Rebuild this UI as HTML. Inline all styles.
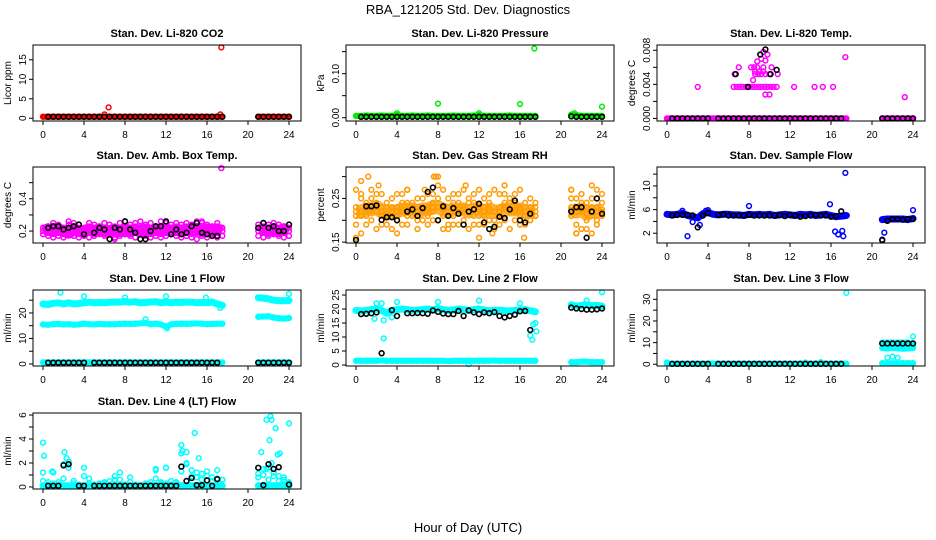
<!DOCTYPE html>
<html><head><meta charset="utf-8"><title>RBA_121205 Std. Dev. Diagnostics</title>
<style>
html,body{margin:0;padding:0;background:#fff;}
svg{display:block;font-family:"Liberation Sans",sans-serif;}
</style></head>
<body>
<svg id="chart" width="936" height="540" viewBox="0 0 936 540" xmlns="http://www.w3.org/2000/svg">
<rect x="0" y="0" width="936" height="540" fill="#fff"/>
<text x="468" y="14" text-anchor="middle" font-size="13">RBA_121205  Std. Dev. Diagnostics</text>
<text x="468" y="532" text-anchor="middle" font-size="13">Hour of Day (UTC)</text>
</svg>
<script>
// shared time grid (hours)
const hours = [0,0.5,1,1.5,2,2.5,3,3.5,4,4.5,5,5.5,6,6.5,7,7.5,8,8.5,9,9.5,10,10.5,11,11.5,12,12.5,13,13.5,14,14.5,15,15.5,16,16.5,17,17.5,21,21.5,22,22.5,23,23.5,24];
const xTicks = [0,4,8,12,16,20,24];

// CO2
const co2Main = [0.4,0.4,0.4,0.4,0.4,0.4,0.4,0.4,0.4,0.4,0.4,0.4,0.4,0.4,0.4,0.4,0.4,0.4,0.4,0.4,0.4,0.4,0.4,0.4,0.4,0.4,0.4,0.4,0.4,0.4,0.4,0.4,0.4,0.4,0.4,0.4,0.4,0.4,0.4,0.4,0.4,0.4,0.4];
const co2Black = [null,0.4,0.4,0.4,0.4,0.4,0.4,0.4,0.4,0.4,0.4,0.4,0.4,0.4,0.4,0.4,0.4,0.4,0.4,0.4,0.4,0.4,0.4,0.4,0.4,0.4,0.4,0.4,0.4,0.4,0.4,0.4,0.4,0.4,0.4,0.4,0.4,0.4,0.4,0.4,0.4,0.4,0.4];
const co2OutT = [6.4,17.4,17.3,6.0];
const co2OutV = [2.8,18.2,1.0,1.0];
// Pressure
const presMain = [0.004,0.004,0.005,0.004,0.004,0.005,0.004,0.004,0.006,0.004,0.004,0.005,0.004,0.004,0.005,0.004,0.004,0.004,0.004,0.005,0.004,0.004,0.004,0.005,0.006,0.004,0.004,0.004,0.004,0.004,0.005,0.004,0.004,0.004,0.004,0.004,0.007,0.006,0.004,0.004,0.004,0.004,0.004];
const presBlack = [null,0.002,0.002,0.002,0.002,0.002,0.002,0.002,0.002,0.002,0.002,0.002,0.002,0.002,0.002,0.002,0.002,0.002,0.002,0.002,0.002,0.002,0.002,0.002,0.002,0.002,0.002,0.002,0.002,0.002,0.002,0.002,0.002,0.002,0.002,0.002,0.003,0.002,0.002,0.002,0.002,0.002,0.002];
const presOutT = [8,16,17.4,24,4,12,21.3];
const presOutV = [0.032,0.031,0.157,0.025,0.01,0.01,0.01];
// Li-820 Temp
const tempMain = [0,0,0,0,0,0,0,0,0,0,0,0,0,0,0,0,0,0,0,0,0,0,0,0,0,0,0,0,0,0,0,0,0,0,0,0,0,0,0,0,0,0,0];
const tempBlack = [null,0,0,0,0,0,0,0,0,null,0,0,0,0,0,0,0,0,0,0,0,0,0,0,0,0,0,0,0,0,0,0,0,0,0,null,0,0,0,0,0,0,0];
const tempOutT = [3,6.6,7,8.2,8.5,8.8,9.4,10.2,8.4,8.6,8.9,9.2,9.6,10,10.8,8.8,9.2,9.6,9.8,9.4,9.6,10,12.4,14.4,15.2,16.2,17.4,23.2,6.5,6.8,7.1,7.4,7.7,8,8.3,8.6,8.9,9.2,9.5,9.8,10.1,10.4,10.7,8.6,9.0,9.4];
const tempOutV = [0.0037,0.0052,0.006,0.006,0.006,0.006,0.006,0.006,0.0045,0.0052,0.0052,0.0052,0.0052,0.0052,0.0052,0.0067,0.007,0.0068,0.0075,0.0078,0.0028,0.0028,0.0037,0.0037,0.0037,0.0037,0.0072,0.0025,0.0037,0.0037,0.0037,0.0037,0.0037,0.0037,0.0037,0.0037,0.0037,0.0037,0.0037,0.0037,0.0037,0.0037,0.0037,0.0055,0.0055,0.0055];
const tempBlkT = [6.7,7.9,9.1,9.6,10.1,10.7];
const tempBlkV = [0.0052,0.0037,0.0075,0.0081,0.0052,0.0057];
// Amb box temp
const ambA = [0.22,0.23,0.25,0.24,0.22,0.24,0.25,0.24,0.22,0.25,0.24,0.23,0.25,0.24,0.22,0.25,0.26,0.24,0.25,0.26,0.24,0.25,0.23,0.26,0.25,0.24,0.25,0.24,0.25,0.24,0.26,0.25,0.24,0.23,0.25,0.22,0.24,0.25,0.24,0.25,0.24,0.23,0.22];
const ambB = [0.18,0.17,0.16,0.17,0.16,0.18,0.17,0.16,0.17,0.16,0.17,0.18,0.17,0.18,0.16,0.17,0.18,0.17,0.16,0.18,0.17,0.16,0.17,0.16,0.17,0.18,0.17,0.16,0.17,0.16,0.15,0.17,0.16,0.17,0.16,0.17,0.17,0.16,0.17,0.18,0.17,0.16,0.17];
const ambC = [0.2,0.21,0.2,0.21,0.2,0.19,0.21,0.2,0.2,0.21,0.2,0.21,0.2,0.2,0.21,0.2,0.21,0.2,0.21,0.2,0.21,0.2,0.21,0.2,0.21,0.2,0.21,0.2,0.21,0.2,0.21,0.2,0.21,0.2,0.21,0.2,0.2,0.21,0.2,0.21,0.2,0.21,0.2];
const ambBlack = [null,0.22,0.23,0.23,0.21,0.22,0.23,0.24,0.18,null,0.19,0.22,0.21,0.15,0.22,0.21,0.26,0.21,0.19,0.15,0.15,0.2,0.23,0.23,0.26,0.18,0.21,0.18,0.19,0.23,0.25,0.19,0.18,0.17,0.17,null,0.22,0.25,0.22,0.23,0.2,0.2,0.24];
const ambOutT = [17.4,7,2.5,8,15.5];
const ambOutV = [0.59,0.15,0.26,0.26,0.26];
// Gas stream RH
const rhA = [0.27,0.26,0.24,0.27,0.26,0.23,0.21,0.22,0.26,0.24,0.27,0.23,0.25,0.22,0.26,0.24,0.28,0.27,0.25,0.26,0.24,0.27,0.25,0.26,0.27,0.25,0.24,0.27,0.26,0.24,0.25,0.26,0.27,0.24,0.23,0.21,0.27,0.25,0.26,0.24,0.25,0.27,0.26];
const rhB = [0.19,0.21,0.23,0.20,0.22,0.19,0.24,0.23,0.20,0.22,0.21,0.24,0.20,0.23,0.21,0.22,0.20,0.21,0.23,0.19,0.22,0.20,0.22,0.21,0.19,0.23,0.22,0.20,0.21,0.23,0.22,0.20,0.21,0.22,0.20,0.21,0.21,0.19,0.22,0.20,0.21,0.19,0.22];
const rhC = [0.23,0.17,0.19,0.25,0.18,0.26,0.23,0.18,0.23,0.19,0.24,0.21,0.18,0.25,0.19,0.26,0.23,0.18,0.21,0.24,0.19,0.23,0.18,0.24,0.21,0.19,0.26,0.18,0.23,0.20,0.18,0.24,0.19,0.21,0.25,0.23,0.23,0.17,0.18,0.23,0.17,0.23,0.24];
const rhD = [0.21,0.25,0.21,0.22,0.24,0.21,0.19,0.25,0.21,0.26,0.19,0.22,0.23,0.2,0.23,0.2,0.25,0.23,0.19,0.21,0.26,0.22,0.24,0.19,0.23,0.21,0.2,0.22,0.19,0.26,0.24,0.22,0.23,0.19,0.22,0.24,0.25,0.22,0.24,0.18,0.23,0.2,0.21];
const rhMid = [0.22,0.22,0.225,0.225,0.23,0.22,0.215,0.22,0.22,0.225,0.225,0.225,0.22,0.225,0.225,0.23,0.23,0.225,0.22,0.225,0.225,0.225,0.22,0.225,0.225,0.22,0.225,0.22,0.22,0.225,0.225,0.225,0.225,0.22,0.22,0.22,0.225,0.22,0.225,0.215,0.22,0.22,0.225];
const rhBlack = [0.155,null,0.232,0.232,0.234,0.201,0.207,0.207,0.2,null,0.22,0.225,0.21,0.228,0.265,0.275,0.2,0.232,0.21,0.228,0.215,0.19,0.22,0.225,0.238,0.195,0.18,0.185,0.208,0.205,0.225,0.245,0.2,0.195,0.215,null,0.22,0.23,0.23,0.16,0.22,0.25,0.215];
const rhOutT = [0.5,1.2,5,6.7,7.8,7.6,8,12,16.4,9,14.5,21,23,21.5,0,2.2,4,10.7,13.3];
const rhOutV = [0.29,0.30,0.27,0.27,0.30,0.30,0.30,0.16,0.16,0.18,0.28,0.27,0.28,0.17,0.16,0.28,0.17,0.28,0.17];
// Sample flow
const sfMain = [5.2,5.1,5.2,5.4,5.0,4.8,4.6,5.3,5.5,5.2,5.1,5.2,5.2,5.1,5.1,5.0,5.2,5.1,5.2,5.1,5.2,5.0,5.1,5.2,5.1,5.0,5.2,5.1,5.2,5.0,5.1,5.2,5.0,4.8,4.9,5.0,4.3,4.4,4.4,4.4,4.4,4.3,4.5];
const sfBlack = [null,5.0,5.1,5.1,5.1,5.0,3.0,5.0,5.4,null,5.1,5.2,5.0,5.0,5.0,5.0,5.1,5.0,5.0,5.0,5.0,5.0,5.1,4.9,5.1,5.0,4.8,4.9,5.0,5.1,5.0,5.0,4.8,4.9,5.7,null,0.9,4.1,4.4,4.4,4.3,4.4,4.4];
const sfOutT = [2,2.5,3.2,8,15.9,16.4,16.7,17.1,17.2,17.4,21,21.2,24,1.5,4,3.8];
const sfOutV = [1.5,3.9,3.4,6.6,6.9,2.3,1.8,2.4,1.5,12.2,0.8,2.1,5.9,5.8,5.9,5.8];
// Line 1 flow
const l1Top = [23.5,23.3,23.8,24,23.5,24,23.5,23.7,24,24.2,24,24.1,24,24.2,24.3,24.2,24.5,24.2,24.4,24,24.1,24.3,24.4,24,24.3,24,24.2,24.1,24.3,24.2,24,24.1,24,24.3,23.5,23,26,25.8,25.5,25,24.8,24.8,24.9];
const l1Mid = [15.5,15.4,15.6,15.7,15.5,15.6,15.4,15.5,15.8,15.6,15.5,15.7,15.6,15.6,15.6,15.7,15.8,15.7,15.8,15.9,16.1,15.6,15.8,15.5,14.6,15.5,15.7,15.8,15.7,15.8,15.9,15.8,15.6,15.7,15.8,15.8,18.5,18.6,18.7,18.2,17.9,17.8,18];
const l1Low = [0.6,0.6,0.6,0.6,0.6,0.6,0.6,0.6,0.6,0.6,0.6,0.6,0.6,0.6,0.6,0.6,0.6,0.6,0.6,0.6,0.6,0.6,0.6,0.6,0.6,0.6,0.6,0.6,0.6,0.6,0.6,0.6,0.6,0.6,0.6,0.6,0.6,0.6,0.6,0.6,0.6,0.6,0.6];
const l1Black = [null,0.5,0.5,0.5,0.5,0.5,0.5,0.5,0.5,null,0.5,0.5,0.5,0.5,0.5,0.5,0.5,0.5,0.5,0.5,0.5,0.5,0.5,0.5,0.5,0.5,0.5,0.5,0.5,0.5,0.5,0.5,0.5,0.5,0.5,null,0.5,0.5,0.5,0.5,0.5,0.5,0.5];
const l1OutT = [1.7,4,8,12,15.9,17.3,24,10,12.1];
const l1OutV = [28,26.5,26,26.5,26,22,27.5,17.5,14];
// Line 2 flow
const l2Top = [19.5,19.3,19.5,19.8,20,19.5,18.5,19.5,19.8,20,19.8,19.5,19.6,19.8,20,19.7,20.2,19.8,19.5,19.7,20,19.8,19.5,19.8,20,19.6,19.4,19.5,19.6,19.4,19.3,19.5,19.6,19.8,19.4,19,21.5,21,21.3,21.5,21.2,21.3,21];
const l2Low = [1.5,1.5,1.5,1.5,1.5,1.6,1.5,1.5,1.5,1.5,1.5,1.5,1.5,1.5,1.5,1.5,1.5,1.5,1.4,1.5,1.5,1.5,1.5,1.5,1.5,1.5,1.5,1.6,1.5,1.5,1.5,1.5,1.5,1.5,1.5,1.5,1.0,1.0,1.2,1.2,1.0,1.0,1.0];
const l2Black = [null,18.2,18.3,18.5,18.8,4.2,null,19.6,17.5,null,18.5,18.5,18.6,18.5,18.3,19.5,19,18.4,18.2,18.2,19.3,17.5,19.5,18.8,18.2,18.8,18.5,18.9,17.5,17,17.5,18,19.2,19.3,12.5,null,20.5,20.2,20,19.8,19.8,19.9,20.2];
const l2OutT = [2.7,2,2.5,2.7,4,8,12,16,17,17.2,17.3,17.5,17.6,22.5,24,3.5,11,1.8];
const l2OutV = [9.5,22,22,16,22.5,22.5,23,22,10.5,9,14.5,15,12,23,26,17,0.3,16.5];
// Line 3 flow
const l3Main = [0.3,0.3,0.3,0.3,0.3,0.3,0.3,0.3,0.3,0.3,0.3,0.3,0.3,0.3,0.3,0.3,0.3,0.3,0.3,0.3,0.3,0.3,0.3,0.3,0.3,0.3,0.3,0.3,0.3,0.3,0.3,0.3,0.3,0.3,0.3,0.3,10,10,10,10,10,10,9.5];
const l3Mid = [null,null,null,null,null,null,null,null,null,null,null,null,null,null,null,null,null,null,null,null,null,null,null,null,null,null,null,null,null,null,null,null,null,null,null,null,7.5,7.3,7.6,7.4,7.2,7.3,7.5];
const l3Low = [null,null,null,null,null,null,null,null,null,null,null,null,null,null,null,null,null,null,null,null,null,null,null,null,null,null,null,null,null,null,null,null,null,null,null,null,0.5,0.5,0.5,0.5,0.5,0.5,0.5];
const l3Black = [null,0.2,0.2,0.2,0.2,0.2,0.2,0.2,0.2,null,0.2,0.2,0.2,0.2,0.2,0.2,0.2,0.2,0.2,0.2,0.2,0.2,0.2,0.2,0.2,0.2,0.2,0.2,0.2,0.2,0.2,0.2,0.2,0.2,0.2,null,9.6,9.6,9.6,9.6,9.6,9.6,9.6];
const l3OutT = [17.5,24,21.5,22,22.5,15,13.5,0];
const l3OutV = [33,12.8,3,3.5,3,1,0.8,0.8];
// Line 4 flow
const l4Base = [0.1,0.1,0.1,0.1,0.1,0.1,0.1,0.1,0.1,0.1,0.1,0.1,0.1,0.1,0.1,0.1,0.1,0.1,0.1,0.1,0.1,0.1,0.1,0.1,0.1,0.1,0.1,0.1,0.1,0.1,0.1,0.1,0.1,0.1,0.1,0.1,0.1,0.1,0.1,0.1,0.1,0.1,0.1];
const l4Scatter = [1.2,0.4,0.3,0.2,1.9,1.6,0.5,0.1,1.6,0.7,0.2,0.3,0.4,0.2,0.6,1.2,0.2,0.8,0.1,0.1,0.1,0.4,1.4,0.3,1.6,0.2,0.4,2.8,1.9,0.9,1.2,1.1,0.9,0.8,1.4,0.6,1.1,1.5,1.6,1.2,0.9,0.6,0.4];
const l4Scatter2 = [0.5,0.2,1.2,0.4,0.7,2.1,0.3,0.2,0.9,0.3,0.2,0.1,0.3,0.5,0.9,0.6,0.2,0.4,0.2,0.1,0.3,0.2,0.7,0.4,0.3,0.5,0.3,1.3,2.0,1.4,0.8,0.6,1.3,0.5,0.7,0.6,0.8,1.0,0.6,0.9,0.5,0.8,0.3];
const l4Black = [null,0.1,0.1,0.1,1.8,1.9,null,0.1,0.1,null,0.1,0.1,0.1,0.1,0.1,0.1,0.1,0.1,0.1,0.1,0.1,0.1,0.1,0.1,0.1,0.1,0.1,1.7,0.5,0.75,0.15,0.15,0.55,0.1,0.65,null,1.6,0.15,1.9,1.5,1.65,null,0.2];
const l4OutT = [0,0.1,2.1,2.3,13.5,13.6,14,14.8,15.2,21.3,21.8,22.2,22.3,22.1,22.7,22.9,23.1,24,21.8,22.3,22.5,0.9,11,12];
const l4OutV = [3.7,2.6,2.9,2.4,3.5,3.0,2.9,4.5,2.4,2.9,5.6,5.9,5.6,3.9,4.9,2.7,2.8,5.3,1.5,2.0,1.2,1.3,1.5,1.6];

const NS = "http://www.w3.org/2000/svg";
const svg = document.getElementById('chart');
const colLeft = [33,346,657], rowTop = [45,167,290,413], boxW = 268, boxH = 76;

const panels = [
 {title:"Stan. Dev. Li-820 CO2", ylab:"Licor ppm", c:0, r:0, lo:-0.7, hi:18.8, ticks:[0,5,10,15], tl:["0","5","10","15"], color:"#ff0000",
  series:[co2Main], bandW:[6], outT:co2OutT, outV:co2OutV, black:co2Black},
 {title:"Stan. Dev. Li-820 Pressure", ylab:"kPa", c:1, r:0, lo:-0.0075, hi:0.165, ticks:[0,0.05,0.1,0.15], tl:["0.00","","0.10",""], color:"#00ee00",
  series:[presMain], bandW:[6], outT:presOutT, outV:presOutV, black:presBlack},
 {title:"Stan. Dev. Li-820 Temp.", ylab:"degrees C", c:2, r:0, lo:-0.0003, hi:0.00862, ticks:[0,0.002,0.004,0.006,0.008], tl:["0.000","","0.004","","0.008"], color:"#ff00ff",
  series:[tempMain], bandW:[6], outT:tempOutT, outV:tempOutV, black:tempBlack, blkT:tempBlkT, blkV:tempBlkV},
 {title:"Stan. Dev. Amb. Box Temp.", ylab:"degrees C", c:0, r:1, lo:0.126, hi:0.597, ticks:[0.2,0.3,0.4,0.5], tl:["0.2","","0.4",""], color:"#ff00ff",
  series:[ambC,ambA,ambB], bandW:[12,0,0], outT:ambOutT, outV:ambOutV, black:ambBlack},
 {title:"Stan. Dev. Gas Stream RH", ylab:"percent", c:1, r:1, lo:0.148, hi:0.322, ticks:[0.15,0.2,0.25,0.3], tl:["0.15","","0.25",""], color:"#ff9a00",
  series:[rhMid,rhA,rhB,rhC,rhD], bandW:[14,0,0,0,0], bandColor:"#ffb030", outT:rhOutT, outV:rhOutV, black:rhBlack},
 {title:"Stan. Dev. Sample Flow", ylab:"ml/min", c:2, r:1, lo:0.35, hi:13.2, ticks:[2,4,6,8,10,12], tl:["2","","6","","10",""], color:"#0000ff",
  series:[sfMain], bandW:[7], outT:sfOutT, outV:sfOutV, black:sfBlack},
 {title:"Stan. Dev. Line 1 Flow", ylab:"ml/min", c:0, r:2, lo:-0.8, hi:29, ticks:[0,5,10,15,20,25], tl:["0","","10","","20",""], color:"#00ffff",
  series:[l1Top,l1Mid,l1Low], bandW:[7,6,6], outT:l1OutT, outV:l1OutV, black:l1Black},
 {title:"Stan. Dev. Line 2 Flow", ylab:"ml/min", c:1, r:2, lo:-0.36, hi:26.8, ticks:[0,5,10,15,20,25], tl:["0","5","10","15","20","25"], color:"#00ffff",
  series:[l2Top,l2Low], bandW:[7,6], outT:l2OutT, outV:l2OutV, black:l2Black},
 {title:"Stan. Dev. Line 3 Flow", ylab:"ml/min", c:2, r:2, lo:-0.8, hi:34.3, ticks:[0,5,10,15,20,25,30], tl:["0","","10","","20","","30"], color:"#00ffff",
  series:[l3Main,l3Mid,l3Low], bandW:[6,6,6], outT:l3OutT, outV:l3OutV, black:l3Black},
 {title:"Stan. Dev. Line 4 (LT) Flow", ylab:"ml/min", c:0, r:3, lo:-0.17, hi:6.17, ticks:[0,1,2,3,4,5,6], tl:["0","","2","","4","","6"], color:"#00ffff",
  series:[l4Base,l4Scatter,l4Scatter2], bandW:[7,0,0], outT:l4OutT, outV:l4OutV, black:l4Black}
];

function mk(tag, attrs, parent){
  const e = document.createElementNS(NS, tag);
  for (const k in attrs) e.setAttribute(k, attrs[k]);
  (parent||svg).appendChild(e);
  return e;
}

panels.forEach((p, pi) => {
  const L = colLeft[p.c], T = rowTop[p.r];
  const xs = h => L + 10 + h * (246 / 24);
  const ys = v => T + boxH - (v - p.lo) / (p.hi - p.lo) * boxH;
  const slug = p.title.toLowerCase().replace(/stan\. dev\. /,'').replace(/[^a-z0-9]+/g,'-').replace(/-+$/,'');
  const g = mk('g', {});
  
  

  const title = mk('text', {x: L + boxW/2, y: T - 8, 'text-anchor':'middle', 'font-size':'11', 'font-weight':'bold'}, g);
  title.textContent = p.title;
  
  

  const yl = mk('text', {x: 0, y: 0, 'text-anchor':'middle', 'font-size':'10', transform:`translate(${L-22},${T+boxH/2}) rotate(-90)`}, g);
  yl.textContent = p.ylab;
  
  

  p.ticks.forEach((tv, i) => {
    const y = ys(tv);
    const tk = mk('line', {x1: L-4, x2: L, y1: y, y2: y, stroke:'#000', 'stroke-width':'1'}, g);
    
    
    if (p.tl[i]) {
      const lb = mk('text', {x:0, y:0, 'text-anchor':'middle', 'font-size':'10', transform:`translate(${L-7},${y}) rotate(-90)`}, g);
      lb.textContent = p.tl[i];
      
      
    }
  });
  xTicks.forEach(h => {
    const x = xs(h);
    const tk = mk('line', {x1:x, x2:x, y1:T+boxH, y2:T+boxH+4, stroke:'#000', 'stroke-width':'1'}, g);
    
    
    const lb = mk('text', {x:x, y:T+boxH+17, 'text-anchor':'middle', 'font-size':'10'}, g);
    lb.textContent = String(h);
    
    
  });

  p.series.forEach((vals, si) => {
    const bw = p.bandW[si];
    if (bw) {
      let seg = [];
      const flush = () => {
        if (seg.length > 1) {
          const pl = mk('polyline', {points: seg.join(' '), fill:'none', stroke:p.bandColor || p.color, 'stroke-width':bw, 'stroke-linejoin':'round', 'stroke-linecap': bw > 8 ? 'butt' : 'round'}, g);
          
          
        }
        seg = [];
      };
      vals.forEach((v, i) => {
        if (v === null || (i > 0 && hours[i] - hours[i-1] > 2)) flush();
        if (v !== null) seg.push(xs(hours[i]).toFixed(1) + ',' + ys(v).toFixed(1));
      });
      flush();
    }
    vals.forEach((v, i) => {
      if (v === null) return;
      const c = mk('circle', {cx: xs(hours[i]), cy: ys(v), r: 2.4, fill:'none', stroke:p.color, 'stroke-width':'1.5'}, g);
      
      
    });
  });
  p.outT.forEach((h, i) => {
    const c = mk('circle', {cx: xs(h), cy: ys(p.outV[i]), r: 2.4, fill:'none', stroke:p.color, 'stroke-width':'1.5'}, g);
    
    
  });
  p.black.forEach((v, i) => {
    if (v === null) return;
    const c = mk('circle', {cx: xs(hours[i]), cy: ys(v), r: 2.4, fill:'none', stroke:'#000', 'stroke-width':'1.6'}, g);
    
    
  });
  if (p.blkT) p.blkT.forEach((h, i) => {
    const c = mk('circle', {cx: xs(h), cy: ys(p.blkV[i]), r: 2.4, fill:'none', stroke:'#000', 'stroke-width':'1.6'}, g);
    
    
  });

  const box = mk('rect', {x: L, y: T, width: boxW, height: boxH, fill:'none', stroke:'#000', 'stroke-width':'1'}, g);
  
  
});
</script>
</body></html>
